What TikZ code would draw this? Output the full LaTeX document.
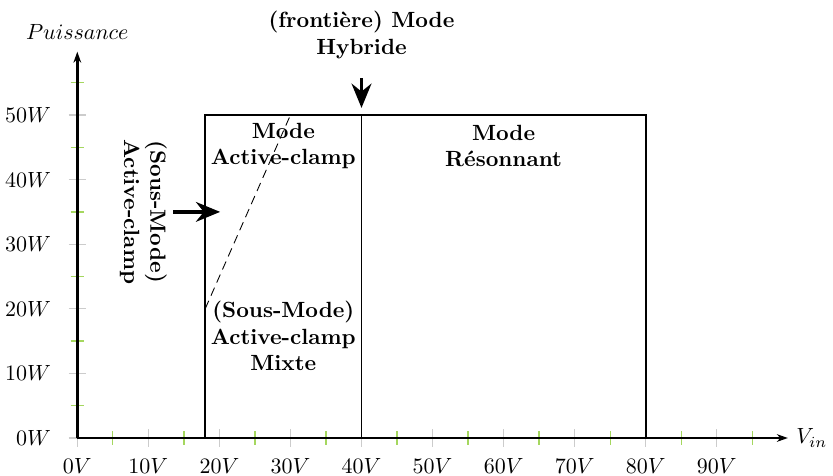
\documentclass[tikz,border=0pt]{standalone}
\usepackage{amsmath}
\usepackage{amssymb}
\usetikzlibrary{arrows.meta}
\definecolor{tickgreen}{RGB}{165,215,95}

\begin{document}
\begin{tikzpicture}[x=0.1135cm,y=0.1032cm,
  axe/.style={line width=1.1pt,-{Stealth[length=5pt,width=3.5pt]}},
  grand/.style={gray!40,semithick},
  petit/.style={tickgreen,semithick},
  mode/.style={font=\bfseries,align=center},
  fleche/.style={line width=1.5pt,-{Stealth[length=11pt,width=9pt]}}]
\useasboundingbox (-10.88,-5.88) rectangle (106.36,67.8);
% graduations
\foreach \x in {0,10,...,90} {
  \draw[grand] ([yshift=-4pt]\x,0) -- ([yshift=4pt]\x,0);
  \node (lx\x) at (\x,-4.4) {$\x V$};
}
\foreach \x in {5,15,...,95} \draw[petit] ([yshift=-3pt]\x,0) -- ([yshift=3pt]\x,0);
\foreach \y in {0,10,...,50} {
  \draw[grand] ([xshift=-4pt]0,\y) -- ([xshift=4pt]0,\y);
  \node[anchor=east] (ly\y) at (-2.6,\y) {$\y W$};
}
\foreach \y in {5,15,...,55} \draw[petit] ([xshift=-3pt]0,\y) -- ([xshift=3pt]0,\y);
% axes
\coordinate (O) at (0,0);
\coordinate (xmax) at (100,0);
\coordinate (ymax) at (0,59.8);
\draw[axe] (O) -- (xmax) node[right] (vin) {$V_{in}$};
\draw[axe] (O) -- (ymax);
\node (puis) at (0,62.8) {$Puissance$};
% zones
\draw[thick] (18,0) rectangle (80,50);
\draw[thick] (40,0) -- (40,50);
\draw[dashed,dash pattern=on 4pt off 2.5pt] (18,20) -- (30,50);
\node[mode] (ac) at (29,45.2) {Mode\\Active-clamp};
\node[mode] (res) at (60,45.2) {Mode\\Résonnant};
\node[mode] (mix) at (29,15.8) {(Sous-Mode)\\Active-clamp\\Mixte};
\node[mode,rotate=-90] (sac) at (9.3,35) {(Sous-Mode)\\Active-clamp};
\node[mode] (hyb) at (40,62.4) {(frontière) Mode\\Hybride};
% fleches
\coordinate (a1) at (13.5,35);
\coordinate (a2) at (20.1,35);
\coordinate (h1) at (40,55.7);
\coordinate (h2) at (40,51.1);
\draw[fleche] (a1) -- (a2);
\draw[fleche] (h1) -- (h2);
\end{tikzpicture}
\end{document}
